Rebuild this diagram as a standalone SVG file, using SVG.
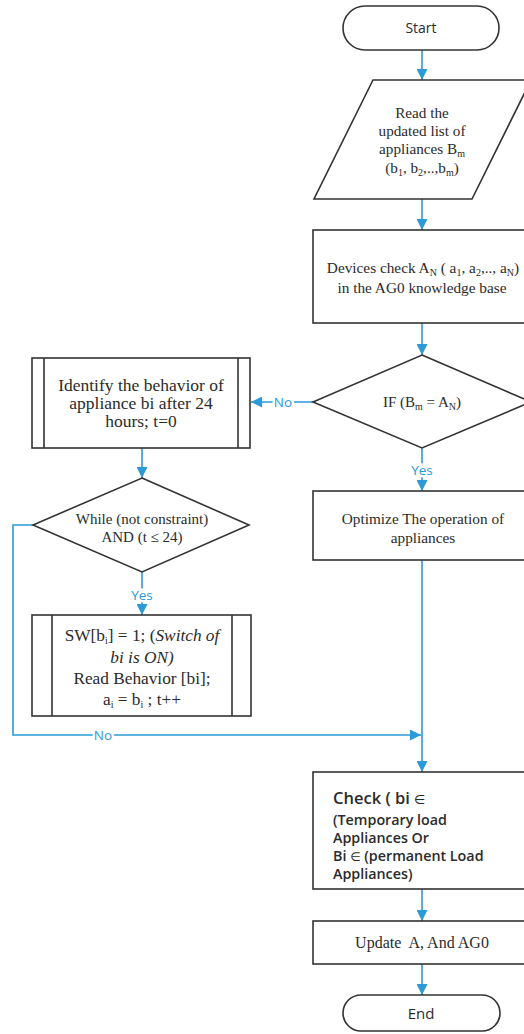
<svg xmlns="http://www.w3.org/2000/svg" width="524" height="1034" viewBox="0 0 524 1034">
<style>
.n{fill:#fff;stroke:#333;stroke-width:1.6}
.t{font-family:"Liberation Serif","Times New Roman",serif;fill:#2b2b2b;text-anchor:middle}
.s{font-family:"Open Sans","Noto Sans",sans-serif;fill:#2b2b2b;text-anchor:middle}
.c{font-family:"Open Sans","Noto Sans",sans-serif;fill:#2b2b2b;font-weight:600}
.el{font-weight:400;font-family:"DejaVu Sans",sans-serif}
.e{fill:none;stroke:#2A9AD8;stroke-width:1.6}
.l{font-family:"Open Sans","Noto Sans",sans-serif;fill:#2A9AD8;font-size:13.5px;text-anchor:middle;stroke:#fff;stroke-width:5;paint-order:stroke}
</style>
<defs>
<marker id="ah" viewBox="0 0 10 10" refX="10" refY="5" markerWidth="11" markerHeight="11" markerUnits="userSpaceOnUse" orient="auto">
<path d="M0,0 L10,5 L0,10 z" fill="#2A9AD8"/>
</marker>
</defs>
<rect width="524" height="1034" fill="#fff"/>
<g id="connectors">
<path class="e" d="M422,50 V80" marker-end="url(#ah)"/>
<path class="e" d="M422,199 V230" marker-end="url(#ah)"/>
<path class="e" d="M422,323 V355" marker-end="url(#ah)"/>
<path class="e" d="M313,402 H251" marker-end="url(#ah)"/>
<path class="e" d="M422,448 V491" marker-end="url(#ah)"/>
<path class="e" d="M142,448 V478" marker-end="url(#ah)"/>
<path class="e" d="M142,572 V615" marker-end="url(#ah)"/>
<path class="e" d="M33,525 H13 V735 H421" marker-end="url(#ah)"/>
<path class="e" d="M422,560 V772" marker-end="url(#ah)"/>
<path class="e" d="M422,889 V921" marker-end="url(#ah)"/>
<path class="e" d="M422,964 V995" marker-end="url(#ah)"/>
<text class="l" x="283" y="407">No</text>
<text class="l" x="422" y="475">Yes</text>
<text class="l" x="142" y="600">Yes</text>
<text class="l" x="103" y="740">No</text>
</g>
<g id="start">
<rect class="n" x="343" y="6" width="156" height="44" rx="22"/>
<text class="s" x="421" y="33" font-size="14">Start</text>
</g>
<g id="read">
<polygon class="n" points="373,80 531,80 472,199 314,199"/>
<text class="t" font-size="15.2"><tspan x="422" y="118">Read the</tspan><tspan x="422" y="136">updated list of</tspan><tspan x="422" y="154">appliances B<tspan font-size="10" dy="3">m</tspan></tspan><tspan x="422" y="173">(b<tspan font-size="10" dy="3">1</tspan><tspan dy="-3">, b</tspan><tspan font-size="10" dy="3">2</tspan><tspan dy="-3">,..,b</tspan><tspan font-size="10" dy="3">m</tspan><tspan dy="-3">)</tspan></tspan></text>
</g>
<g id="devices">
<rect class="n" x="313" y="230" width="218" height="93"/>
<text class="t" font-size="15.3"><tspan x="423" y="273">Devices check A<tspan font-size="10" dy="3">N</tspan><tspan dy="-3"> ( a</tspan><tspan font-size="10" dy="3">1</tspan><tspan dy="-3">, a</tspan><tspan font-size="10" dy="3">2</tspan><tspan dy="-3">,.., a</tspan><tspan font-size="10" dy="3">N</tspan><tspan dy="-3">)</tspan></tspan><tspan x="422" y="293">in the AG0 knowledge base</tspan></text>
</g>
<g id="if">
<polygon class="n" points="422,355 531,402 422,448 313,402"/>
<text class="t" font-size="15" x="422" y="407">IF (B<tspan font-size="10" dy="3">m</tspan><tspan dy="-3"> = A</tspan><tspan font-size="10" dy="3">N</tspan><tspan dy="-3">)</tspan></text>
</g>
<g id="identify">
<rect class="n" x="32" y="358" width="218" height="90"/>
<path class="n" d="M44,358 V448 M238,358 V448"/>
<text class="t" font-size="17.5"><tspan x="141" y="391">Identify the behavior of</tspan><tspan x="141" y="409">appliance bi after 24</tspan><tspan x="141" y="427">hours; t=0</tspan></text>
</g>
<g id="optimize">
<rect class="n" x="313" y="491" width="218" height="69"/>
<text class="t" font-size="15.3"><tspan x="423" y="524">Optimize The operation of</tspan><tspan x="423" y="543">appliances</tspan></text>
</g>
<g id="while">
<polygon class="n" points="142,478 249,525 142,572 33,525"/>
<text class="t" font-size="15"><tspan x="142" y="524">While (not constraint)</tspan><tspan x="142" y="542">AND  (t ≤ 24)</tspan></text>
</g>
<g id="sw">
<rect class="n" x="32" y="615" width="219" height="101"/>
<path class="n" d="M52,615 V716 M232,615 V716"/>
<text class="t" font-size="17.3"><tspan x="142" y="641">SW[b<tspan font-size="10" dy="3">i</tspan><tspan dy="-3">] = 1; (</tspan><tspan font-style="italic">Switch of</tspan></tspan><tspan x="142" y="663" font-style="italic">bi is ON)</tspan><tspan x="142" y="684">Read Behavior [bi];</tspan><tspan x="142" y="705">a<tspan font-size="10" dy="3">i</tspan><tspan dy="-3"> = b</tspan><tspan font-size="10" dy="3">i</tspan><tspan dy="-3"> ; t++</tspan></tspan></text>
</g>
<g id="check">
<rect class="n" x="313" y="772" width="218" height="117"/>
<text class="c" x="333" y="804" font-size="16.5">Check ( bi <tspan class="el" font-size="13">∈</tspan></text>
<text class="c" font-size="14.3"><tspan x="333" y="825">(Temporary load</tspan><tspan x="333" y="843">Appliances Or</tspan><tspan x="333" y="861">Bi <tspan class="el" font-size="12">∈</tspan> (permanent Load</tspan><tspan x="333" y="879">Appliances)</tspan></text>
</g>
<g id="update">
<rect class="n" x="313" y="921" width="218" height="43"/>
<text class="t" font-size="16" x="422" y="948" xml:space="preserve">Update  A, And AG0</text>
</g>
<g id="end">
<rect class="n" x="343" y="995" width="157" height="36" rx="18"/>
<text class="s" x="421" y="1019" font-size="15">End</text>
</g>
</svg>
